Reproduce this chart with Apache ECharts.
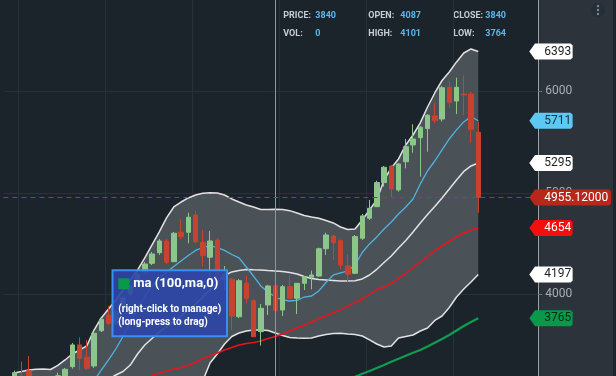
<!DOCTYPE html>
<html>
<head>
<meta charset="utf-8">
<script src="https://cdn.jsdelivr.net/npm/echarts@6/dist/echarts.min.js"></script>
<style>
html, body { margin: 0; padding: 0; background: #1b232b; }
#main { width: 616px; height: 376px; }
</style>
</head>
<body>
<div id="main"></div>
<script>
// candles, index 0 is an empty slot at the left edge
var openP  = [null,3150,3180,3249,3080,3110,3060,3120,3108,3289,3503,3381,3296,3643,3798,3717,3880,4005,4084,4225,4307,4412,4527,4323,4613,4613,4783,4514,4367,4537,4140,4150,3781,4110,3939,3634,3897,4087,3847,4077,3963,4110,4170,4182,4451,4576,4530,4281,4209,4554,4751,4865,5102,5266,5030,5308,5473,5545,5634,5759,5729,6041,5906,5975,5975,5598];
var closeP = [null,3230,3120,3150,3120,3070,3140,3200,3263,3503,3371,3273,3618,3756,3716,3831,3966,4084,4200,4300,4399,4527,4317,4603,4570,4761,4520,4382,4527,4143,4200,3788,4136,3963,3584,3864,4084,3840,4077,3963,4110,4175,4192,4451,4586,4510,4291,4199,4570,4774,4849,5102,5253,5040,5286,5456,5532,5647,5766,5712,6037,5890,6041,5965,5628,4955.12];
var lowP   = [null,3100,3080,3100,3040,3030,3020,3090,3090,3270,3256,3256,3276,3630,3700,3700,3860,3990,4070,4212,4290,4389,4300,4320,4544,4504,4507,4274,4160,4044,4040,3650,3769,3913,3581,3496,3798,3764,3788,3956,3808,4044,4051,4172,4389,4340,4248,4116,4202,4537,4734,4862,5062,4958,5013,5243,5397,5161,5407,5687,5703,5840,5778,5766,5496,4806];
var highP  = [null,3250,3338,3394,3160,3150,3180,3230,3275,3522,3578,3552,3631,3770,3887,3850,3980,4100,4215,4320,4419,4547,4547,4616,4741,4806,4823,4636,4626,4557,4280,4163,4153,4182,3956,3906,4094,4101,4094,4192,4113,4182,4235,4461,4609,4586,4542,4396,4586,4793,4931,5121,5266,5276,5296,5532,5677,5660,5778,5884,6054,6103,6136,6156,5998,5702];

// bollinger bands
var bandUpper = [null,3227,3241,3256,3264,3266,3261,3301,3355,3414,3453,3493,3650,3769,3857,3946,4044,4143,4241,4360,4488,4616,4754,4862,4911,4951,4980,4997,5003,5000,4980,4941,4911,4882,4862,4837,4837,4839,4837,4826,4803,4778,4764,4751,4729,4705,4665,4640,4645,4734,4833,4931,5128,5246,5335,5473,5571,5690,5847,5985,6108,6192,6291,6379,6419,6393];
var bandMid = [null,null,null,null,null,null,null,null,null,null,null,null,3090,3120,3165,3207,3241,3305,3414,3503,3567,3631,3680,3739,3788,3847,3906,3975,4044,4123,4187,4222,4237,4246,4243,4241,4236,4232,4227,4217,4202,4177,4158,4148,4143,4138,4133,4133,4135,4153,4192,4248,4315,4379,4458,4532,4616,4704,4788,4867,4951,5039,5128,5212,5266,5295];
var bandLower = [null,2960,2965,2970,2975,2975,2970,2960,2950,2930,2910,2890,2860,2840,2830,2820,2810,2800,2800,2810,2830,2850,2880,2910,2950,3000,3060,3150,3325,3414,3512,3586,3621,3640,3650,3650,3645,3621,3596,3576,3571,3569,3571,3591,3606,3616,3618,3611,3606,3591,3552,3512,3483,3493,3571,3586,3601,3640,3670,3744,3788,3872,3975,4054,4123,4197];

// moving averages
var maFast = [null,null,null,null,null,null,null,null,null,null,null,null,3150,3256,3355,3463,3586,3719,3867,3985,4079,4163,4217,4276,4330,4384,4434,4463,4478,4463,4434,4394,4360,4271,4182,4084,4025,3975,3946,3936,3941,3975,3985,4035,4118,4192,4212,4232,4291,4414,4498,4567,4645,4714,4793,4862,4941,5089,5217,5315,5424,5532,5621,5700,5754,5711];
var maRed = [null,null,null,null,null,null,null,null,null,null,null,null,null,null,null,null,null,null,3130,3168,3202,3227,3246,3266,3281,3301,3330,3370,3396,3424,3453,3478,3503,3517,3527,3542,3567,3586,3611,3640,3670,3699,3729,3761,3790,3820,3849,3887,3921,3956,4000,4046,4074,4109,4158,4207,4266,4320,4374,4429,4478,4522,4567,4606,4635,4654];
var maGreen = [null,null,null,null,null,null,null,null,null,null,null,null,null,null,null,null,null,null,null,null,null,null,null,null,null,null,null,null,null,null,null,null,null,null,null,null,null,null,null,null,null,null,null,null,null,null,null,3163,3190,3219,3246,3276,3305,3337,3366,3396,3426,3453,3488,3524,3562,3601,3645,3690,3729,3765];

var lastPrice = 4955.12;
var crossIndex = 37;
var emptySlots = 8;

// price tags on the right axis
var tagValues = [6393, 5711, 5295, 4955.12, 4654, 4197, 3765];
var tagText = ['6393', '5711', '5295', '4955.12000', '4654', '4197', '3765'];
var tagBg = ['#ffffff', '#5cc9f5', '#ffffff', '#b7281b', '#f40f0f', '#ffffff', '#08994a'];
var tagFg = ['#1d1d1d', '#14303d', '#1d1d1d', '#ffffff', '#ffffff', '#1d1d1d', '#062a15'];

var categories = [];
for (var c = 0; c < openP.length + emptySlots; c++) categories.push(String(c));

var candleData = openP.map(function (o, i) {
    return o == null ? '-' : [o, closeP[i], lowP[i], highP[i]];
});
var bandWidth = bandUpper.map(function (u, i) {
    return u == null ? null : u - bandLower[i];
});

var chart = echarts.init(document.getElementById('main'));

function lineSeries(name, data, color, width) {
    return {
        name: name,
        type: 'line',
        data: data,
        symbol: 'none',
        silent: true,
        lineStyle: { color: color, width: width },
        z: 3
    };
}

var headerFont = 'bold 9px Roboto';
function headerText(label, value, x, y) {
    return [
        { type: 'text', x: x, y: y, style: { text: label, fill: '#c9cdd1', font: headerFont, verticalAlign: 'middle' } },
        { type: 'text', x: x + 32, y: y, style: { text: value, fill: '#5db7ee', font: headerFont, verticalAlign: 'middle' } }
    ];
}

var option = {
    backgroundColor: '#1b232b',
    animation: false,
    grid: { left: 3.4, right: 76.1, top: 0, bottom: 0 },
    xAxis: {
        type: 'category',
        data: categories,
        boundaryGap: true,
        axisLine: { show: false },
        axisTick: { show: false },
        axisLabel: { show: false },
        splitLine: {
            show: true,
            interval: function (idx) { return idx % 12 === 2; },
            lineStyle: { color: '#27313a', width: 1 }
        }
    },
    yAxis: {
        type: 'value',
        position: 'right',
        min: 3197,
        max: 6901,
        splitNumber: 4,
        offset: -1.6,
        axisLine: { show: true, lineStyle: { color: '#9aa1a8' } },
        axisTick: { show: true, length: 4, lineStyle: { color: '#6b737b' } },
        axisLabel: {
            color: '#a9afb5', fontSize: 12, fontFamily: 'Roboto', margin: 7,
            showMinLabel: false, showMaxLabel: false,
            formatter: function (v) { return String(v); }
        },
        splitLine: { show: true, showMinLine: false, showMaxLine: false, lineStyle: { color: '#27313a' } }
    },
    graphic: [
        { type: 'rect', z: -10, shape: { x: 538.5, y: 0, width: 75, height: 376 }, style: { fill: '#2c333a' } },
        { type: 'rect', z: -10, shape: { x: 613, y: 0, width: 3, height: 376 }, style: { fill: '#1e252c' } },
        { type: 'circle', shape: { cx: 598, cy: 10, r: 7 }, style: { fill: '#252f38' } },
        { type: 'circle', shape: { cx: 598, cy: 6, r: 1.2 }, style: { fill: '#7d868e' } },
        { type: 'circle', shape: { cx: 598, cy: 10, r: 1.2 }, style: { fill: '#7d868e' } },
        { type: 'circle', shape: { cx: 598, cy: 14, r: 1.2 }, style: { fill: '#7d868e' } }
    ].concat(
        headerText('PRICE:', '3840', 283.3, 16),
        headerText('VOL:', '0', 283.3, 33.5),
        headerText('OPEN:', '4087', 368.3, 16),
        headerText('HIGH:', '4101', 368.3, 33.5),
        headerText('CLOSE:', '3840', 453.3, 16),
        headerText('LOW:', '3764', 453.3, 33.5),
        [
            { type: 'rect', z: 100, shape: { x: 112.5, y: 270.3, width: 114.5, height: 66 },
              style: { fill: 'rgba(44,70,170,0.9)', stroke: '#3a8ef5', lineWidth: 2 } },
            { type: 'rect', z: 101, shape: { x: 118.3, y: 278.3, width: 11, height: 11 }, style: { fill: '#08994a' } },
            { type: 'text', z: 101, x: 133.3, y: 284, style: { text: 'ma (100,ma,0)', fill: '#ffffff', font: 'bold 13px Roboto', verticalAlign: 'middle' } },
            { type: 'text', z: 101, x: 118.3, y: 309.5, style: { text: '(right-click to manage)', fill: '#ffffff', font: 'bold 10px Roboto', verticalAlign: 'middle' } },
            { type: 'text', z: 101, x: 118.3, y: 322, style: { text: '(long-press to drag)', fill: '#ffffff', font: 'bold 10px Roboto', verticalAlign: 'middle' } }
        ]
    ),
    series: [
        {
            name: 'bandBase', type: 'line', data: bandLower, stack: 'band', symbol: 'none', silent: true,
            lineStyle: { opacity: 0 }, z: 1
        },
        {
            name: 'bandFill', type: 'line', data: bandWidth, stack: 'band', symbol: 'none', silent: true,
            lineStyle: { opacity: 0 }, areaStyle: { color: '#4a5258', opacity: 1 }, z: 1
        },
        lineSeries('upper', bandUpper, '#e2e2e2', 1.5),
        lineSeries('middle', bandMid, '#e2e2e2', 1.5),
        lineSeries('lower', bandLower, '#e2e2e2', 1.5),
        lineSeries('maFast', maFast, '#4fb4e2', 1.3),
        lineSeries('maRed', maRed, '#e8141c', 1.5),
        lineSeries('ma100', maGreen, '#0f9d4f', 2.2),
        {
            name: 'price',
            type: 'candlestick',
            data: candleData,
            barWidth: 5,
            silent: true,
            z: 4,
            itemStyle: {
                color: '#8cc68a', color0: '#c8432f',
                borderColor: '#8cc68a', borderColor0: '#c8432f', borderWidth: 1
            }
        },
        {
            name: 'guides',
            type: 'line',
            data: [],
            z: 5,
            markLine: {
                silent: true,
                symbol: ['none', 'none'],
                label: { show: false },
                data: [
                    { xAxis: crossIndex, lineStyle: { color: '#8e959c', width: 1, type: 'solid' } },
                    { yAxis: lastPrice, lineStyle: { color: '#a8382c', width: 1, type: [5, 4] } }
                ]
            }
        },
        {
            name: 'tags',
            type: 'custom',
            clip: false,
            silent: true,
            z: 10,
            data: tagValues.map(function (v) { return [categories.length - 1, v]; }),
            encode: { x: 0, y: 1 },
            renderItem: function (params, api) {
                var i = params.dataIndex;
                var y = api.coord([api.value(0), api.value(1)])[1];
                var cs = params.coordSys;
                var tip = cs.x + cs.width - 10.6;
                var left = tip + 5.7;
                var w = tagText[i].length * 6.4 + 12;
                return {
                    type: 'group',
                    children: [
                        {
                            type: 'polygon',
                            shape: { points: [[tip, y], [left, y - 8], [left + w - 2, y - 8], [left + w, y - 6],
                                              [left + w, y + 6], [left + w - 2, y + 8], [left, y + 8]] },
                            style: { fill: tagBg[i] }
                        },
                        {
                            type: 'text',
                            x: tip + 15, y: y,
                            style: { text: tagText[i], fill: tagFg[i], font: '12px Roboto', verticalAlign: 'middle' }
                        }
                    ]
                };
            }
        }
    ]
};

chart.setOption(option);
</script>
</body>
</html>
